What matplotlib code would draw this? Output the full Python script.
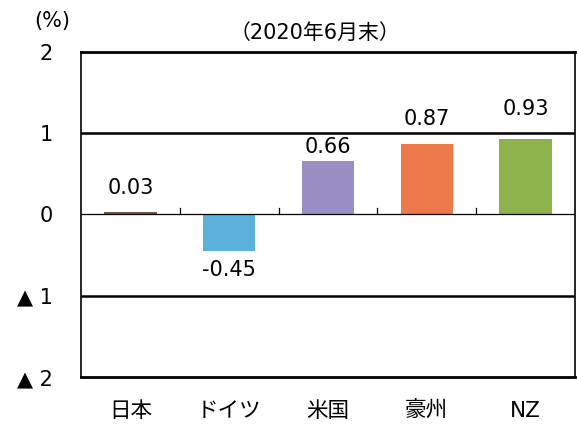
import matplotlib
matplotlib.use("Agg")
import matplotlib.pyplot as plt

plt.rcParams['font.family'] = ['DejaVu Sans', 'Noto Sans CJK JP']

countries = ['日本', 'ドイツ', '米国', '豪州', 'NZ']
values = [0.03, -0.45, 0.66, 0.87, 0.93]
colors = ['#7a5545', '#5bb1dc', '#9a8fc4', '#ec7949', '#8db24b']
yticks = [-2, -1, 0, 1, 2]
ytick_labels = ['▲ 2', '▲ 1', '0', '1', '2']

# label placement (hand-placed in the original)
label_offsets = [0.30, -0.23, 0.17, 0.30, 0.37]

fig = plt.figure(figsize=(5.77, 4.28), dpi=100)
ax = fig.add_axes([0.1404, 0.1192, 0.856, 0.7593])

x = list(range(len(countries)))
ax.bar(x, values, width=0.53, color=colors, zorder=3)

for xi, v, off in zip(x, values, label_offsets):
    ax.text(xi, v + off, f'{v:.2f}', ha='center', va='center', fontsize=15)

ax.set_xlim(-0.5, len(countries) - 0.5)
ax.set_ylim(-2, 2)

# horizontal grid lines
for g in [-1, 1]:
    ax.axhline(g, color='black', lw=1.8, zorder=2)
ax.axhline(0, color='black', lw=0.9, zorder=4)

# small tick marks on the zero line between categories
for b in range(1, len(countries)):
    ax.plot([b - 0.5, b - 0.5], [0, 0.08], color='black', lw=0.9, zorder=4)

ax.set_yticks(yticks)
ax.set_yticklabels(ytick_labels, fontsize=15)
ax.tick_params(axis='y', length=0, pad=20)
ax.set_xticks(x)
ax.set_xticklabels(countries, fontsize=15.5)
ax.tick_params(axis='x', length=0, pad=17)

ax.spines['top'].set_linewidth(2.0)
ax.spines['bottom'].set_linewidth(2.0)
ax.spines['left'].set_linewidth(1.2)
ax.spines['right'].set_linewidth(1.2)

fig.text(0.09, 0.95, '(%)', ha='center', va='center', fontsize=15)
fig.text(0.546, 0.922, '（2020年6月末）', ha='center', va='center', fontsize=15)

fig.savefig('out.png', dpi=100)
